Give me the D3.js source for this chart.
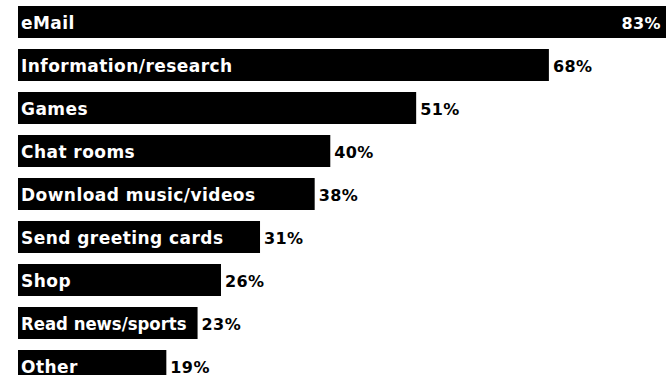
<!DOCTYPE html>
<html><head><meta charset="utf-8">
<script src="https://cdn.jsdelivr.net/npm/d3@7"></script>
<style>body{margin:0;background:#fff}svg{display:block}</style>
</head><body>
<script>
const categories = ["eMail","Information/research","Games","Chat rooms","Download music/videos","Send greeting cards","Shop","Read news/sports","Other"];
const values = [83,68,51,40,38,31,26,23,19];

const W = 666, H = 375;
const svg = d3.select("body").append("svg").attr("width", W).attr("height", H);
const x = d3.scaleLinear().domain([0, 83]).range([18, 666]);
const y = d3.scaleBand().domain(categories).range([6, 6 + 43*9 - 11]).paddingInner(11/43).paddingOuter(0).align(0);

const g = svg.selectAll("g.row").data(categories).enter().append("g");
g.append("rect")
  .attr("x", x(0)).attr("y", d => y(d))
  .attr("width", (d,i) => x(values[i]) - x(0))
  .attr("height", y.bandwidth())
  .attr("fill", "#000");
g.append("text")
  .attr("x", x(0) + 3).attr("y", d => y(d) + y.bandwidth()/2 + 1)
  .attr("dy", "0.36em")
  .attr("fill", "#fff")
  .style("font", "bold 17px 'DejaVu Sans'")
  .style("letter-spacing", "0.45px")
  .text(d => d)
  .each(function(d, i) {
    const maxW = x(values[i]) - x(0) - 14;
    const w = this.getComputedTextLength();
    if (w > maxW) {
      d3.select(this).style("letter-spacing", "0px")
        .attr("textLength", maxW).attr("lengthAdjust", "spacingAndGlyphs");
    }
  });
g.append("text")
  .attr("x", (d,i) => i === 0 ? x(values[i]) - 5 : x(values[i]) + 4)
  .attr("y", d => y(d) + y.bandwidth()/2 + 1)
  .attr("dy", "0.36em")
  .attr("text-anchor", (d,i) => i === 0 ? "end" : "start")
  .attr("fill", (d,i) => i === 0 ? "#fff" : "#000")
  .style("font", "bold 16px 'DejaVu Sans'")
  .style("letter-spacing", "0.4px")
  .text((d,i) => values[i] + "%");
</script>
</body></html>
